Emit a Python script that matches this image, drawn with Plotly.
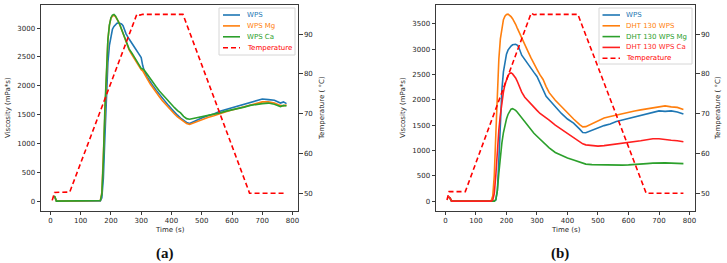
import plotly.graph_objects as go

# ---------------- data ----------------
# panel (a)
time_a = [10, 15, 20, 30, 60, 100, 140, 160, 165, 170, 175, 180, 185, 190, 195, 200, 205, 210, 215, 220,
          225, 230, 235, 240, 245, 250, 260, 270, 280, 290, 300, 305, 310, 320, 330, 340, 350, 360, 370, 380,
          390, 400, 410, 420, 430, 440, 450, 460, 470, 480, 490, 500, 520, 540, 560, 580, 600, 620, 640, 660,
          680, 700, 720, 740, 760, 770, 780]
wps_a = [80, 60, 0, 0, 0, 0, 0, 0, 5, 60, 400, 1100, 1900, 2400, 2700, 2880, 2980, 3030, 3060, 3085,
         3090, 3085, 3070, 3040, 2960, 2900, 2810, 2740, 2650, 2570, 2490, 2350, 2260, 2150, 2060,
         1990, 1920, 1850, 1790, 1720, 1660, 1600, 1540, 1490, 1440, 1400, 1365, 1345, 1370, 1400,
         1420, 1440, 1480, 1510, 1560, 1590, 1620, 1660, 1690, 1720, 1750, 1770, 1760, 1750, 1700, 1720, 1690]
wps_mg_a = [80, 70, 0, 0, 0, 0, 0, 0, 10, 150, 800, 1700, 2400, 2800, 3050, 3170, 3210, 3220, 3200, 3160,
            3110, 3050, 2980, 2900, 2820, 2750, 2620, 2530, 2440, 2350, 2280, 2260, 2220, 2120, 2030,
            1950, 1880, 1810, 1740, 1680, 1620, 1560, 1510, 1460, 1420, 1380, 1345, 1330, 1350, 1380,
            1400, 1420, 1450, 1480, 1520, 1550, 1580, 1610, 1640, 1670, 1700, 1720, 1720, 1700, 1660, 1650, 1670]
wps_ca_a = [90, 80, 0, 0, 0, 0, 0, 0, 10, 120, 700, 1600, 2350, 2800, 3050, 3180, 3225, 3235, 3210, 3170,
            3110, 3050, 2980, 2900, 2830, 2760, 2640, 2560, 2470, 2380, 2300, 2290, 2270, 2200, 2120,
            2050, 1980, 1910, 1850, 1790, 1730, 1680, 1620, 1570, 1530, 1470, 1430, 1420, 1430, 1440,
            1450, 1460, 1480, 1500, 1530, 1560, 1580, 1600, 1630, 1660, 1680, 1690, 1700, 1680, 1640, 1660, 1650]
temp_time_a = [6, 14, 64, 286, 296, 305, 438, 658, 780]
temp_a = [48.2, 50.2, 50.3, 95.1, 94.8, 95.0, 95.0, 50.0, 50.0]

# panel (b)
time_b = [10, 15, 20, 60, 100, 140, 150, 155, 160, 165, 170, 175, 180, 185, 190, 195, 200, 205, 210, 215,
          220, 225, 230, 235, 240, 250, 260, 270, 280, 290, 300, 310, 320, 330, 340, 360, 380, 400, 420, 440,
          450, 460, 480, 500, 520, 540, 560, 580, 600, 620, 640, 660, 680, 700, 720, 740, 760, 780]
wps_b = [80, 60, 0, 0, 0, 0, 0, 0, 0, 20, 200, 800, 1600, 2200, 2550, 2780, 2900, 2980, 3030, 3060,
         3085, 3095, 3095, 3080, 3040, 2880, 2790, 2700, 2620, 2540, 2460, 2330, 2170, 2070, 2000,
         1860, 1730, 1620, 1540, 1420, 1355, 1350, 1400, 1440, 1490, 1520, 1570, 1600, 1630, 1670,
         1700, 1720, 1760, 1780, 1770, 1780, 1760, 1720]
dht_wps_b = [80, 60, 0, 0, 0, 0, 10, 100, 500, 1300, 2100, 2800, 3200, 3450, 3580, 3650, 3685, 3690, 3670, 3640,
             3600, 3550, 3490, 3420, 3350, 3230, 3100, 2960, 2830, 2700, 2600, 2490, 2400, 2260, 2140,
             1990, 1860, 1740, 1620, 1510, 1465, 1470, 1530, 1580, 1640, 1670, 1700, 1720, 1750, 1780,
             1800, 1820, 1850, 1870, 1880, 1860, 1850, 1810]
dht_mg_b = [80, 60, 0, 0, 0, 0, 0, 0, 0, 30, 200, 550, 900, 1150, 1350, 1500, 1620, 1710, 1780, 1815,
            1825, 1815, 1790, 1760, 1720, 1640, 1560, 1480, 1410, 1340, 1280, 1220, 1160, 1100, 1050,
            960, 900, 850, 810, 770, 750, 730, 720, 715, 710, 710, 710, 710, 715, 720,
            730, 740, 750, 755, 755, 750, 745, 740]
dht_ca_b = [90, 60, 0, 0, 0, 0, 0, 20, 150, 500, 1000, 1400, 1700, 1950, 2150, 2300, 2400, 2470, 2520, 2530,
            2510, 2480, 2430, 2370, 2300, 2150, 2050, 1980, 1920, 1860, 1790, 1730, 1690, 1650, 1600,
            1500, 1420, 1340, 1260, 1170, 1130, 1110, 1095, 1085, 1095, 1110, 1120, 1135, 1150, 1170,
            1190, 1210, 1230, 1230, 1210, 1200, 1190, 1170]
temp_time_b = [5, 12, 65, 281, 290, 300, 434, 658, 780]
temp_b = [48.3, 50.4, 50.4, 95.3, 94.9, 95.0, 95.0, 50.0, 50.0]

names_a = ["WPS", "WPS Mg", "WPS Ca"]
names_b = ["WPS", "DHT 130 WPS", "DHT 130 WPS Mg", "DHT 130 WPS Ca"]
temp_name = "Temperature"

x_ticks = [0, 100, 200, 300, 400, 500, 600, 700, 800]
visc_ticks_a = [0, 500, 1000, 1500, 2000, 2500, 3000]
visc_ticks_b = [0, 500, 1000, 1500, 2000, 2500, 3000, 3500]
temp_ticks = [50, 60, 70, 80, 90]

# ---------------- styles ----------------
W, H = 727, 263
BLUE, ORANGE, GREEN, RED, TRED = "#1f77b4", "#ff7f0e", "#2ca02c", "#ff1f1f", "#ff0000"
FONT = "DejaVu Sans"
TXT = "#262626"
LW = 1.6

def px(x):
    return x / W

def py(y):
    return 1 - y / H

fig = go.Figure()

series_a = [(wps_a, BLUE), (wps_mg_a, ORANGE), (wps_ca_a, GREEN)]
for (vals, col), nm in zip(series_a, names_a):
    fig.add_trace(go.Scatter(x=time_a, y=vals, mode="lines", name=nm, line=dict(color=col, width=LW),
                             xaxis="x", yaxis="y", showlegend=False))
fig.add_trace(go.Scatter(x=temp_time_a, y=temp_a, mode="lines", name=temp_name,
                         line=dict(color=TRED, width=LW, dash="5px,3px"), xaxis="x", yaxis="y2", showlegend=False))

series_b = [(wps_b, BLUE), (dht_wps_b, ORANGE), (dht_mg_b, GREEN), (dht_ca_b, RED)]
for (vals, col), nm in zip(series_b, names_b):
    fig.add_trace(go.Scatter(x=time_b, y=vals, mode="lines", name=nm, line=dict(color=col, width=LW),
                             xaxis="x2", yaxis="y3", showlegend=False))
fig.add_trace(go.Scatter(x=temp_time_b, y=temp_b, mode="lines", name=temp_name,
                         line=dict(color=TRED, width=LW, dash="5px,3px"), xaxis="x2", yaxis="y4", showlegend=False))

tickfont = dict(family=FONT, size=7, color=TXT)
common = dict(showline=True, linecolor="#3a3a3a", linewidth=1, ticks="outside", ticklen=3.5,
              tickcolor="#3a3a3a", tickwidth=1, showgrid=False, zeroline=False, tickfont=tickfont)

dom_a = [px(41), px(298)]
dom_b = [px(436), px(695)]
ydom = [py(210.5), py(5)]

fig.update_layout(
    width=W, height=H, margin=dict(l=0, r=0, t=0, b=0),
    paper_bgcolor="white", plot_bgcolor="white", showlegend=False,
    xaxis=dict(domain=dom_a, anchor="y", range=[-31, 818], tickvals=x_ticks, mirror=True, **common),
    yaxis=dict(domain=ydom, anchor="x", range=[-162, 3400], tickvals=visc_ticks_a, **common),
    yaxis2=dict(overlaying="y", anchor="x", side="right", range=[45.65, 97.35], tickvals=temp_ticks, **common),
    xaxis2=dict(domain=dom_b, anchor="y3", range=[-31, 818], tickvals=x_ticks, mirror=True, **common),
    yaxis3=dict(domain=ydom, anchor="x2", range=[-185, 3870], tickvals=visc_ticks_b, **common),
    yaxis4=dict(overlaying="y3", anchor="x2", side="right", range=[45.65, 97.35], tickvals=temp_ticks, **common),
)

ann_font = dict(family=FONT, size=7, color=TXT)
annotations = []
shapes = []

# axis titles
for cx, ry_left_x, ry_right_x in [((41 + 298) / 2, 8, 322), ((436 + 695) / 2, 403, 718)]:
    annotations.append(dict(text="Time (s)", x=px(cx), y=py(230), xref="paper", yref="paper",
                            xanchor="center", yanchor="middle", showarrow=False, font=ann_font))
    annotations.append(dict(text="Viscosity (mPa*s)", x=px(ry_left_x), y=py(108), xref="paper", yref="paper",
                            xanchor="center", yanchor="middle", textangle=-90, showarrow=False, font=ann_font))
    annotations.append(dict(text="Temperature ( °C)", x=px(ry_right_x), y=py(108), xref="paper", yref="paper",
                            xanchor="center", yanchor="middle", textangle=-90, showarrow=False, font=ann_font))

# panel labels
for lab, cx in [("(a)", 165), ("(b)", 560)]:
    annotations.append(dict(text="<b>%s</b>" % lab, x=px(cx), y=py(253), xref="paper", yref="paper",
                            xanchor="center", yanchor="middle", showarrow=False,
                            font=dict(family="Liberation Serif", size=15, color="#111")))

# legends (drawn as paper-space decoration)
def legend(entries, box, line_x0, line_x1, text_x, y0, step):
    bx0, by0, bx1, by1 = box
    shapes.append(dict(type="rect", xref="paper", yref="paper", x0=px(bx0), x1=px(bx1), y0=py(by1), y1=py(by0),
                       line=dict(color="#d6d6d6", width=1), fillcolor="rgba(255,255,255,0.85)", layer="above"))
    for i, (nm, col, dash) in enumerate(entries):
        yy = y0 + i * step
        shapes.append(dict(type="line", xref="paper", yref="paper", x0=px(line_x0), x1=px(line_x1),
                           y0=py(yy), y1=py(yy), line=dict(color=col, width=LW, dash=dash), layer="above"))
        annotations.append(dict(text=nm, x=px(text_x), y=py(yy), xref="paper", yref="paper",
                                xanchor="left", yanchor="middle", showarrow=False,
                                font=dict(family=FONT, size=7, color=col)))

legend([(names_a[0], BLUE, "solid"), (names_a[1], ORANGE, "solid"), (names_a[2], GREEN, "solid"),
        (temp_name, TRED, "5px,3px")],
       (219, 8, 295, 55), 223, 240, 244.5, 15, 10.9)
legend([(names_b[0], BLUE, "solid"), (names_b[1], ORANGE, "solid"), (names_b[2], GREEN, "solid"),
        (names_b[3], RED, "solid"), (temp_name, TRED, "5px,3px")],
       (599, 8, 692, 64), 602.5, 620, 623.5, 15, 10.8)

fig.update_layout(annotations=annotations, shapes=shapes)
fig.write_html("out.html")
